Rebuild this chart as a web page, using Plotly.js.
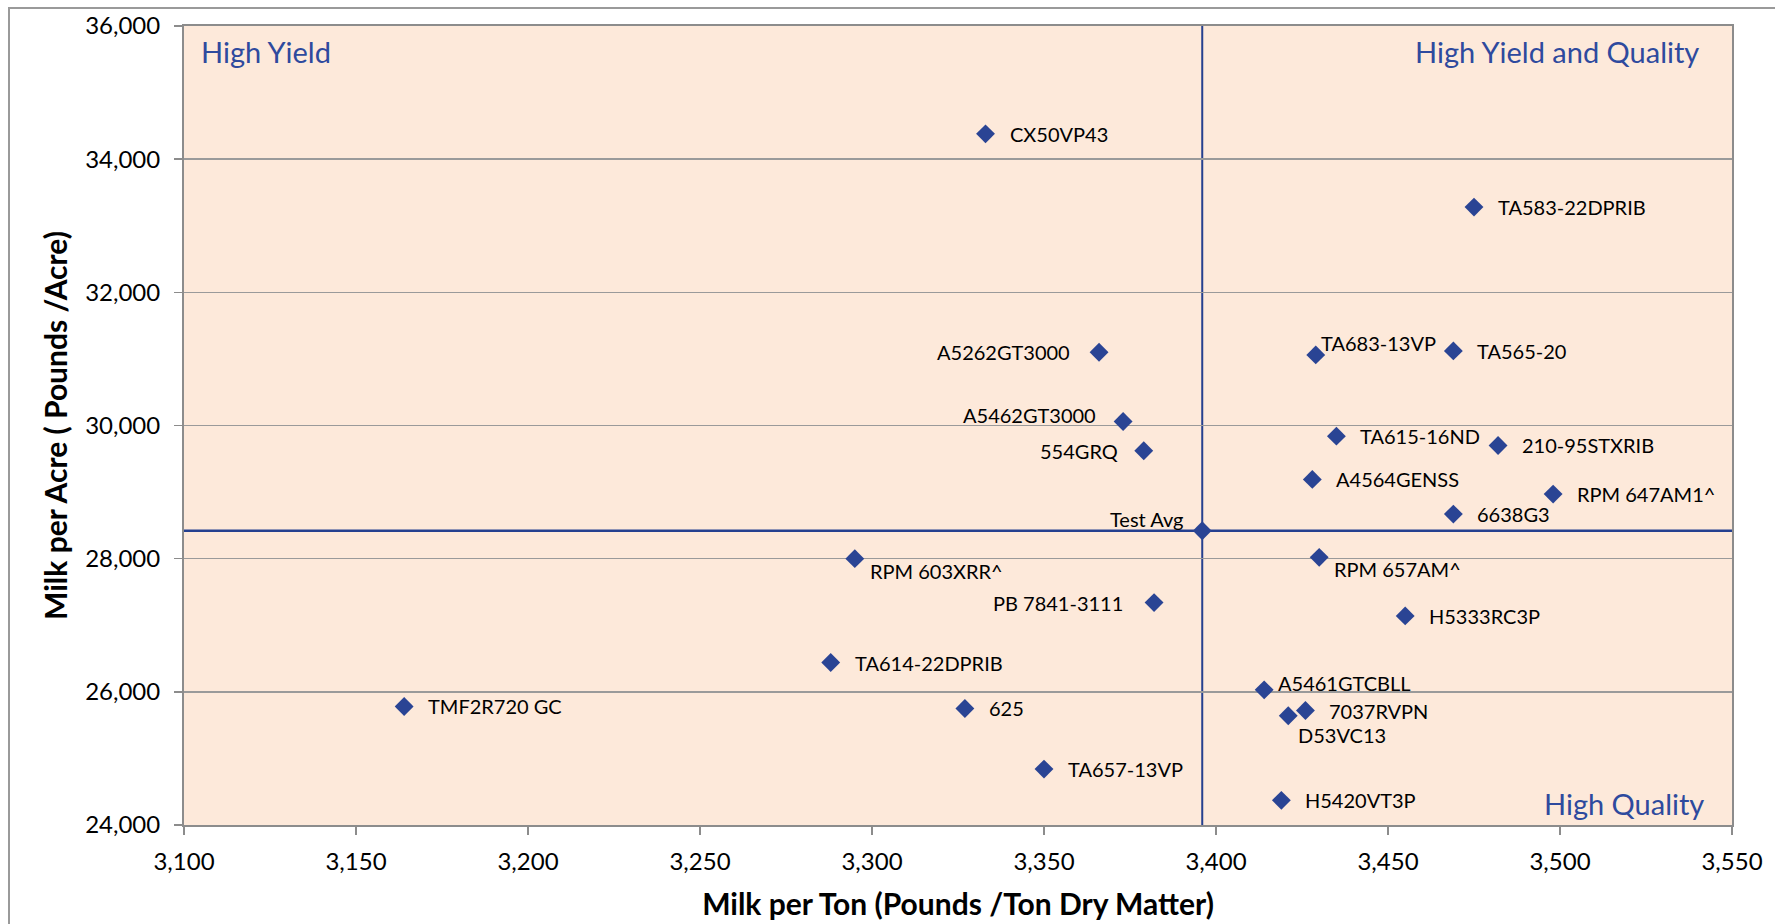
<!DOCTYPE html>
<html>
<head>
<meta charset="utf-8">
<script src="https://cdn.plot.ly/plotly-3.0.1.min.js"></script>
<style>
  html, body { margin: 0; padding: 0; background: #ffffff; }
  #chart { width: 1775px; height: 924px; position: relative; }
  #frame { position: absolute; left: 8px; top: 7px; width: 2000px; height: 2000px;
           border: 2px solid #9a9a9a; pointer-events: none; box-sizing: border-box; }
</style>
</head>
<body>
<div id="chart"></div>
<div id="frame"></div>
<script>
// ---- data ----
const hybrids = [
  "CX50VP43", "TA583-22DPRIB", "A5262GT3000", "TA683-13VP", "TA565-20",
  "A5462GT3000", "554GRQ", "TA615-16ND", "210-95STXRIB", "A4564GENSS",
  "RPM 647AM1^", "6638G3", "Test Avg", "RPM 603XRR^", "RPM 657AM^",
  "PB 7841-3111", "H5333RC3P", "TA614-22DPRIB", "A5461GTCBLL", "TMF2R720 GC",
  "625", "7037RVPN", "D53VC13", "TA657-13VP", "H5420VT3P"
];
const milkPerTon = [
  3333, 3475, 3366, 3429, 3469,
  3373, 3379, 3435, 3482, 3428,
  3498, 3469, 3396, 3295, 3430,
  3382, 3455, 3288, 3414, 3164,
  3327, 3426, 3421, 3350, 3419
];
const milkPerAcre = [
  34380, 33280, 31100, 31060, 31120,
  30060, 29620, 29840, 29700, 29190,
  28970, 28670, 28420, 28000, 28020,
  27340, 27140, 26440, 26030, 25780,
  25750, 25720, 25640, 24840, 24370
];
const xTicks = [3100, 3150, 3200, 3250, 3300, 3350, 3400, 3450, 3500, 3550];
const yTicks = [24000, 26000, 28000, 30000, 32000, 34000, 36000];
const quadrantLabels = ["High Yield", "High Yield and Quality", "High Quality"];
const xTitle = "Milk per Ton (Pounds /Ton Dry Matter)";
const yTitle = "Milk per Acre ( Pounds /Acre)";

// ---- style: label placement per point [anchor, xshift px, yshift px] ----
const labelStyle = [
  ["left", 22, 0], ["left", 22, 0], ["right", -27, 0], ["left", 3, 12], ["left", 22, 0],
  ["right", -25, 7], ["right", -24, 0], ["left", 22, 0], ["left", 22, 0], ["left", 22, 0],
  ["left", 22, 0], ["left", 22, 0], ["right", -17, 12], ["left", 13, -12], ["left", 13, -12],
  ["right", -29, 0], ["left", 22, 0], ["left", 22, 0], ["left", 12, 7], ["left", 22, 0],
  ["left", 22, 0], ["left", 22, -1], ["left", 8, -19], ["left", 22, 0], ["left", 22, 0]
];

const avgIdx = hybrids.indexOf("Test Avg");
const avgX = milkPerTon[avgIdx];
const avgY = milkPerAcre[avgIdx];

const FONT = "Lato, 'Open Sans', sans-serif";
const BLUE = "#2a4494";
const LINEBLUE = "#25408f";
const QBLUE = "#2e4a9e";

const trace = {
  type: "scatter",
  mode: "markers",
  x: milkPerTon,
  y: milkPerAcre,
  text: hybrids,
  marker: { symbol: "diamond", size: 14.5, color: BLUE, line: { width: 0 } },
  cliponaxis: false,
  hoverinfo: "x+y+text",
  showlegend: false
};

const pointLabels = hybrids.map((h, i) => ({
  text: h,
  xref: "x", yref: "y",
  x: milkPerTon[i], y: milkPerAcre[i],
  xanchor: labelStyle[i][0], yanchor: "middle",
  xshift: labelStyle[i][1], yshift: labelStyle[i][2],
  showarrow: false,
  font: { family: FONT, size: 20, color: "#000000" }
}));

const quadAnns = [
  { text: quadrantLabels[0], xref: "paper", yref: "paper", x: 0.010, y: 0.992,
    xanchor: "left", yanchor: "top", showarrow: false,
    font: { family: FONT, size: 29, color: QBLUE } },
  { text: quadrantLabels[1], xref: "paper", yref: "paper", x: 0.980, y: 0.992,
    xanchor: "right", yanchor: "top", showarrow: false,
    font: { family: FONT, size: 29, color: QBLUE } },
  { text: quadrantLabels[2], xref: "paper", yref: "paper", x: 0.983, y: 0.003,
    xanchor: "right", yanchor: "bottom", showarrow: false,
    font: { family: FONT, size: 29, color: QBLUE } }
];

const layout = {
  width: 1775,
  height: 924,
  margin: { l: 184, r: 43, t: 26, b: 99 },
  paper_bgcolor: "rgba(255,255,255,0)",
  plot_bgcolor: "#fde9da",
  font: { family: FONT, color: "#000000" },
  showlegend: false,
  xaxis: {
    range: [xTicks[0], xTicks[xTicks.length - 1]],
    tickvals: xTicks,
    tickformat: ",",
    ticks: "outside",
    ticklen: 8,
    tickwidth: 1.5,
    tickcolor: "#8c8c8c",
    ticklabelstandoff: 6,
    tickfont: { family: FONT, size: 24, color: "#000000" },
    showgrid: false,
    zeroline: false,
    showline: true,
    linecolor: "#8c8c8c",
    linewidth: 2,
    mirror: true,
    title: { text: "<b>" + xTitle + "</b>", font: { family: FONT, size: 30, color: "#000000" }, standoff: 20 }
  },
  yaxis: {
    range: [yTicks[0], yTicks[yTicks.length - 1]],
    tickvals: yTicks,
    tickformat: ",",
    ticks: "outside",
    ticklen: 8,
    tickwidth: 1.5,
    tickcolor: "#8c8c8c",
    ticklabelstandoff: 9,
    tickfont: { family: FONT, size: 24, color: "#000000" },
    showgrid: true,
    gridcolor: "#9a9a9a",
    gridwidth: 1.5,
    zeroline: false,
    showline: true,
    linecolor: "#8c8c8c",
    linewidth: 2,
    mirror: true,
    title: { text: "<b>" + yTitle + "</b>", font: { family: FONT, size: 30, color: "#000000" }, standoff: 9 }
  },
  shapes: [
    { type: "line", xref: "x", yref: "paper", x0: avgX, x1: avgX, y0: 0, y1: 1,
      line: { color: LINEBLUE, width: 2 }, layer: "below" },
    { type: "line", xref: "paper", yref: "y", x0: 0, x1: 1, y0: avgY, y1: avgY,
      line: { color: LINEBLUE, width: 2.5 }, layer: "below" }
  ],
  annotations: pointLabels.concat(quadAnns)
};

Plotly.newPlot("chart", [trace], layout, { displayModeBar: false, staticPlot: true });
</script>
</body>
</html>
